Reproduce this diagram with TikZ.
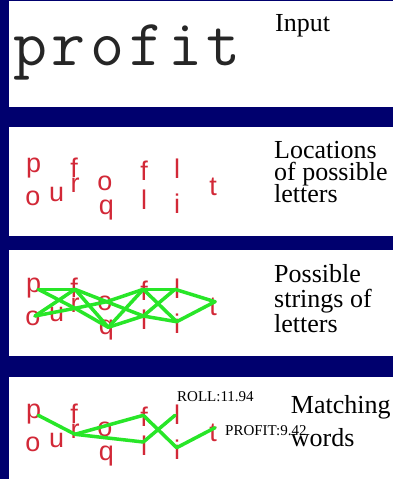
\documentclass[tikz,border=0pt]{standalone}
\usepackage{fontspec}
\setmainfont{Liberation Serif}
\newfontfamily\lettersans{Liberation Sans}
\definecolor{panelnavy}{RGB}{0,0,110}
\definecolor{letterred}{RGB}{210,40,55}
\definecolor{pathgreen}{RGB}{40,230,40}
\newcommand\captionfont[1]{\fontsize{26}{#1}\selectfont\setlength{\lineskiplimit}{-30pt}}

\begin{document}
\begin{tikzpicture}[x=1pt,y=-1pt,caption/.style={anchor=north west,inner sep=0pt,align=left,font={\captionfont{22}}},letter/.style={anchor=base,inner sep=0pt,text=letterred,font=\lettersans\fontsize{27}{27}\selectfont},typed/.style={anchor=base west,inner sep=0pt,text=black!85,font=\ttfamily\fontsize{66}{66}\selectfont},score/.style={anchor=base west,inner sep=0pt,font=\fontsize{15}{15}\selectfont},link/.style={pathgreen,line width=3.5pt,line cap=round,line join=round}]
\fill[panelnavy] (0,0) rectangle (393,479);
\useasboundingbox (0,0) rectangle (393,479);
\foreach \t/\b in {1/107,127/236,250/356,377/479} \fill[white] (9,\t) rectangle (393,\b);
\foreach \c [count=\k from 0] in {p,r,o,f,i,t} \node[typed] (w\k) at (13+38.7*\k,65) {\c};
\node[caption] (input) at (275,14.5) {Input};
\node[caption] (locations) at (274,141.2) {Locations\\of possible\\letters};
\node[caption,font={\captionfont{24.7}}] (strings) at (274,264.5) {Possible\\strings of\\letters};
\node[caption,font={\captionfont{33}}] (matching) at (290.7,395.2) {Matching\\words};
\foreach \dy [count=\r from 2] in {0,120,246}
  \foreach \n/\c/\x/\y in {p/p/33.7/172,oa/o/33/205,u/u/56.7/201,fa/f/74/177,r/r/75/192,ob/o/105/190,q/q/106.5/214,fb/f/144/180,la/l/144/209,lb/l/177/178,i/i/177/213,t/t/213/195}
    \node[letter] (\n\r) at (\x,\y+\dy) {\c};
\foreach \dy [count=\r from 3] in {120,246}
  \foreach \n/\x/\y in {p/38.3/169.3,oa/35/196,fa/75/169.3,r/75/188.3,ob/106.7/181.7,q/108.3/207.3,fb/143.3/169.3,la/143.3/196,lb/175/169.3,i/176.7/201.7,t/215/181.7}
    \coordinate (k\n\r) at (\x,\y+\dy);
\foreach \a/\b in {p/fa,p/r,oa/fa,oa/r,fa/ob,fa/q,r/ob,r/q,ob/fb,ob/la,q/fb,q/la,fb/lb,fb/i,la/lb,la/i,lb/t,i/t}
  \draw[link] (k\a3) -- (k\b3);
\foreach \a/\b in {p/r,r/fb,r/la,fb/i,i/t,la/lb}
  \draw[link] (k\a4) -- (k\b4);
\node[score] (roll) at (177,401.7) {ROLL:11.94};
\node[score] (profit) at (225,435) {PROFIT:9.42};
\end{tikzpicture}
\end{document}
